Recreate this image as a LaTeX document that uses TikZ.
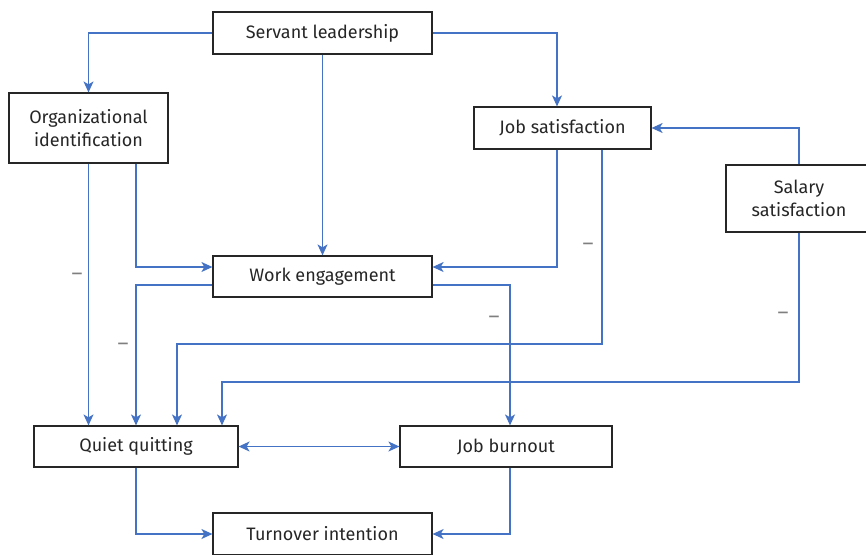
\documentclass[tikz,border=0pt]{standalone}
\usepackage{fontspec}
\setmainfont{Fira Sans}
\usetikzlibrary{arrows.meta}

\definecolor{linkblue}{HTML}{4472C4}
\definecolor{boxgrey}{HTML}{262626}
\definecolor{signgrey}{HTML}{7F7F7F}

\tikzset{
	factor/.style = {draw = boxgrey, line width = 1.2pt, fill = white, text = boxgrey, align = center, inner sep = 0pt, font = \fontsize{18}{23.5}\selectfont},
	link/.style = {draw = linkblue, line width = 1.2pt, >={Stealth[length = 11pt, width = 10pt, inset = 3pt]}, ->},
	sign/.style = {text = signgrey, inner sep = 0pt, font = \fontsize{21}{21}\selectfont}
}

\begin{document}
\begin{tikzpicture}[x = 1pt, y = -1pt]
			\clip (0,0) rectangle (866,554);
			\fill [white] (0,0) rectangle (866,554);

			\begin{scope}
				\node [factor, minimum width = 219pt, minimum height = 42pt] (SL) at (322.5,33) {Servant leadership};
				\node [factor, minimum width = 159pt, minimum height = 70pt] (OI) at (88.5,128) {Organizational\\identification};
				\node [factor, minimum width = 177pt, minimum height = 42pt] (JS) at (562.5,128) {Job satisfaction};
				\node [factor, minimum width = 146pt, minimum height = 67pt] (SS) at (799,198.5) {Salary\\satisfaction};
				\node [factor, minimum width = 219pt, minimum height = 41pt] (WE) at (322.5,276.5) {Work engagement};
				\node [factor, minimum width = 204pt, minimum height = 41pt] (QQ) at (136,446.5) {Quiet quitting};
				\node [factor, minimum width = 212pt, minimum height = 41pt] (JB) at (506,446.5) {Job burnout};
				\node [factor, minimum width = 219pt, minimum height = 42pt] (TI) at (322.5,534) {Turnover intention};
			\end{scope}

			\coordinate (jsbend) at (602,344);
			\coordinate (ssbend) at (799,382);

			\begin{scope}
				\draw [link] (SL.west) -| (OI.north);
				\draw [link] (SL.east) -| ([xshift = -5.5pt]JS.north);
				\draw [link] (SL.south) to (WE.north);
				\draw [link] (OI.south) to (OI.south |- QQ.north);
				\draw [link] ([xshift = 47.5pt]OI.south) |- ([yshift = 9.5pt]WE.west);
				\draw [link] ([xshift = -5.5pt]JS.south) |- ([yshift = 9.5pt]WE.east);
				\draw [link] ([xshift = 39.5pt]JS.south) to (jsbend) -| ([xshift = 41pt]QQ.north);
				\draw [link] (SS.north) |- (JS.east);
				\draw [link] (SS.south) to (ssbend) -| ([xshift = 86pt]QQ.north);
				\draw [link] ([yshift = -8.5pt]WE.west) -| (QQ.north);
				\draw [link] ([yshift = -8.5pt]WE.east) -| ([xshift = 4pt]JB.north);
				\draw [link, <->] (QQ.east) to (JB.west);
				\draw [link] (QQ.south) |- (TI.west);
				\draw [link] ([xshift = 4pt]JB.south) |- (TI.east);
			\end{scope}

			\begin{scope}
				\node [sign] (negOI) at (77,277) {–};
				\node [sign] (negJS) at (588,247) {–};
				\node [sign] (negWE) at (123,347) {–};
				\node [sign] (negJB) at (494,320) {–};
				\node [sign] (negSS) at (783,316) {–};
			\end{scope}
		\end{tikzpicture}
\end{document}
